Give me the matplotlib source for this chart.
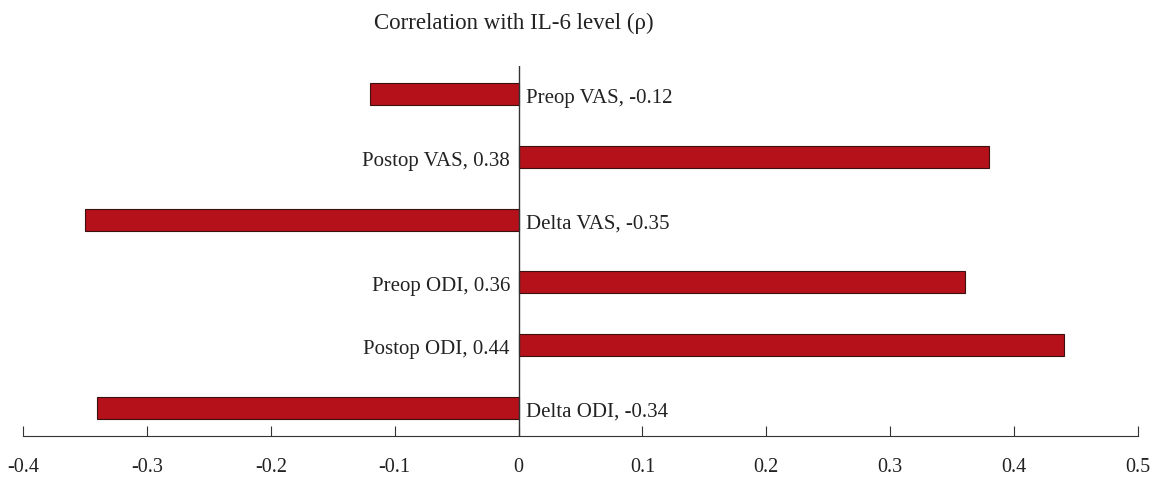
import matplotlib
matplotlib.use("Agg")
import matplotlib.pyplot as plt

# data, top to bottom as in the figure
labels = ["Preop VAS", "Postop VAS", "Delta VAS", "Preop ODI", "Postop ODI", "Delta ODI"]
rho = [-0.12, 0.38, -0.35, 0.36, 0.44, -0.34]
xticks = [-0.4, -0.3, -0.2, -0.1, 0, 0.1, 0.2, 0.3, 0.4, 0.5]
xtick_labels = ["-0.4", "-0.3", "-0.2", "-0.1", "0", "0.1", "0.2", "0.3", "0.4", "0.5"]

plt.rcParams['font.family'] = ['Liberation Serif', 'DejaVu Serif']

fig = plt.figure(figsize=(11.57, 4.8), dpi=100)
ax = fig.add_axes([23 / 1157, 44 / 480, 1115 / 1157, 370 / 480])

n = len(labels)
ypos = [n - 1 - i for i in range(n)]
ax.barh(ypos, rho, height=0.35, color='#B5111B', edgecolor='#3a1010', linewidth=0.8, zorder=2)

# zero line
ax.axvline(0, color='#333333', linewidth=1.0, zorder=3)

for y, lab, v in zip(ypos, labels, rho):
    txt = f"{lab}, {v:g}"
    if v < 0:
        ax.text(0.006, y - 0.07, txt, ha='left', va='center', fontsize=15, color='#222222')
    else:
        ax.text(-0.007, y - 0.07, txt, ha='right', va='center', fontsize=15, color='#222222')

ax.set_xlim(-0.4, 0.5)
ax.set_ylim(-0.444, n - 1 + 0.444)
ax.set_xticks(xticks)
ax.set_xticklabels(xtick_labels, fontsize=14.5, color='#222222')
ax.set_yticks([])
for s in ['top', 'right', 'left']:
    ax.spines[s].set_visible(False)
ax.spines['bottom'].set_color('#333333')
ax.tick_params(axis='x', direction='in', length=7, color='#333333', pad=16)

fig.text(514 / 1157, 1 - 23 / 480, "Correlation with IL-6 level (ρ)", ha='center', va='center',
         fontsize=16.5, color='#222222', family=['Liberation Serif', 'DejaVu Sans'])

fig.savefig("out.png", dpi=100)
